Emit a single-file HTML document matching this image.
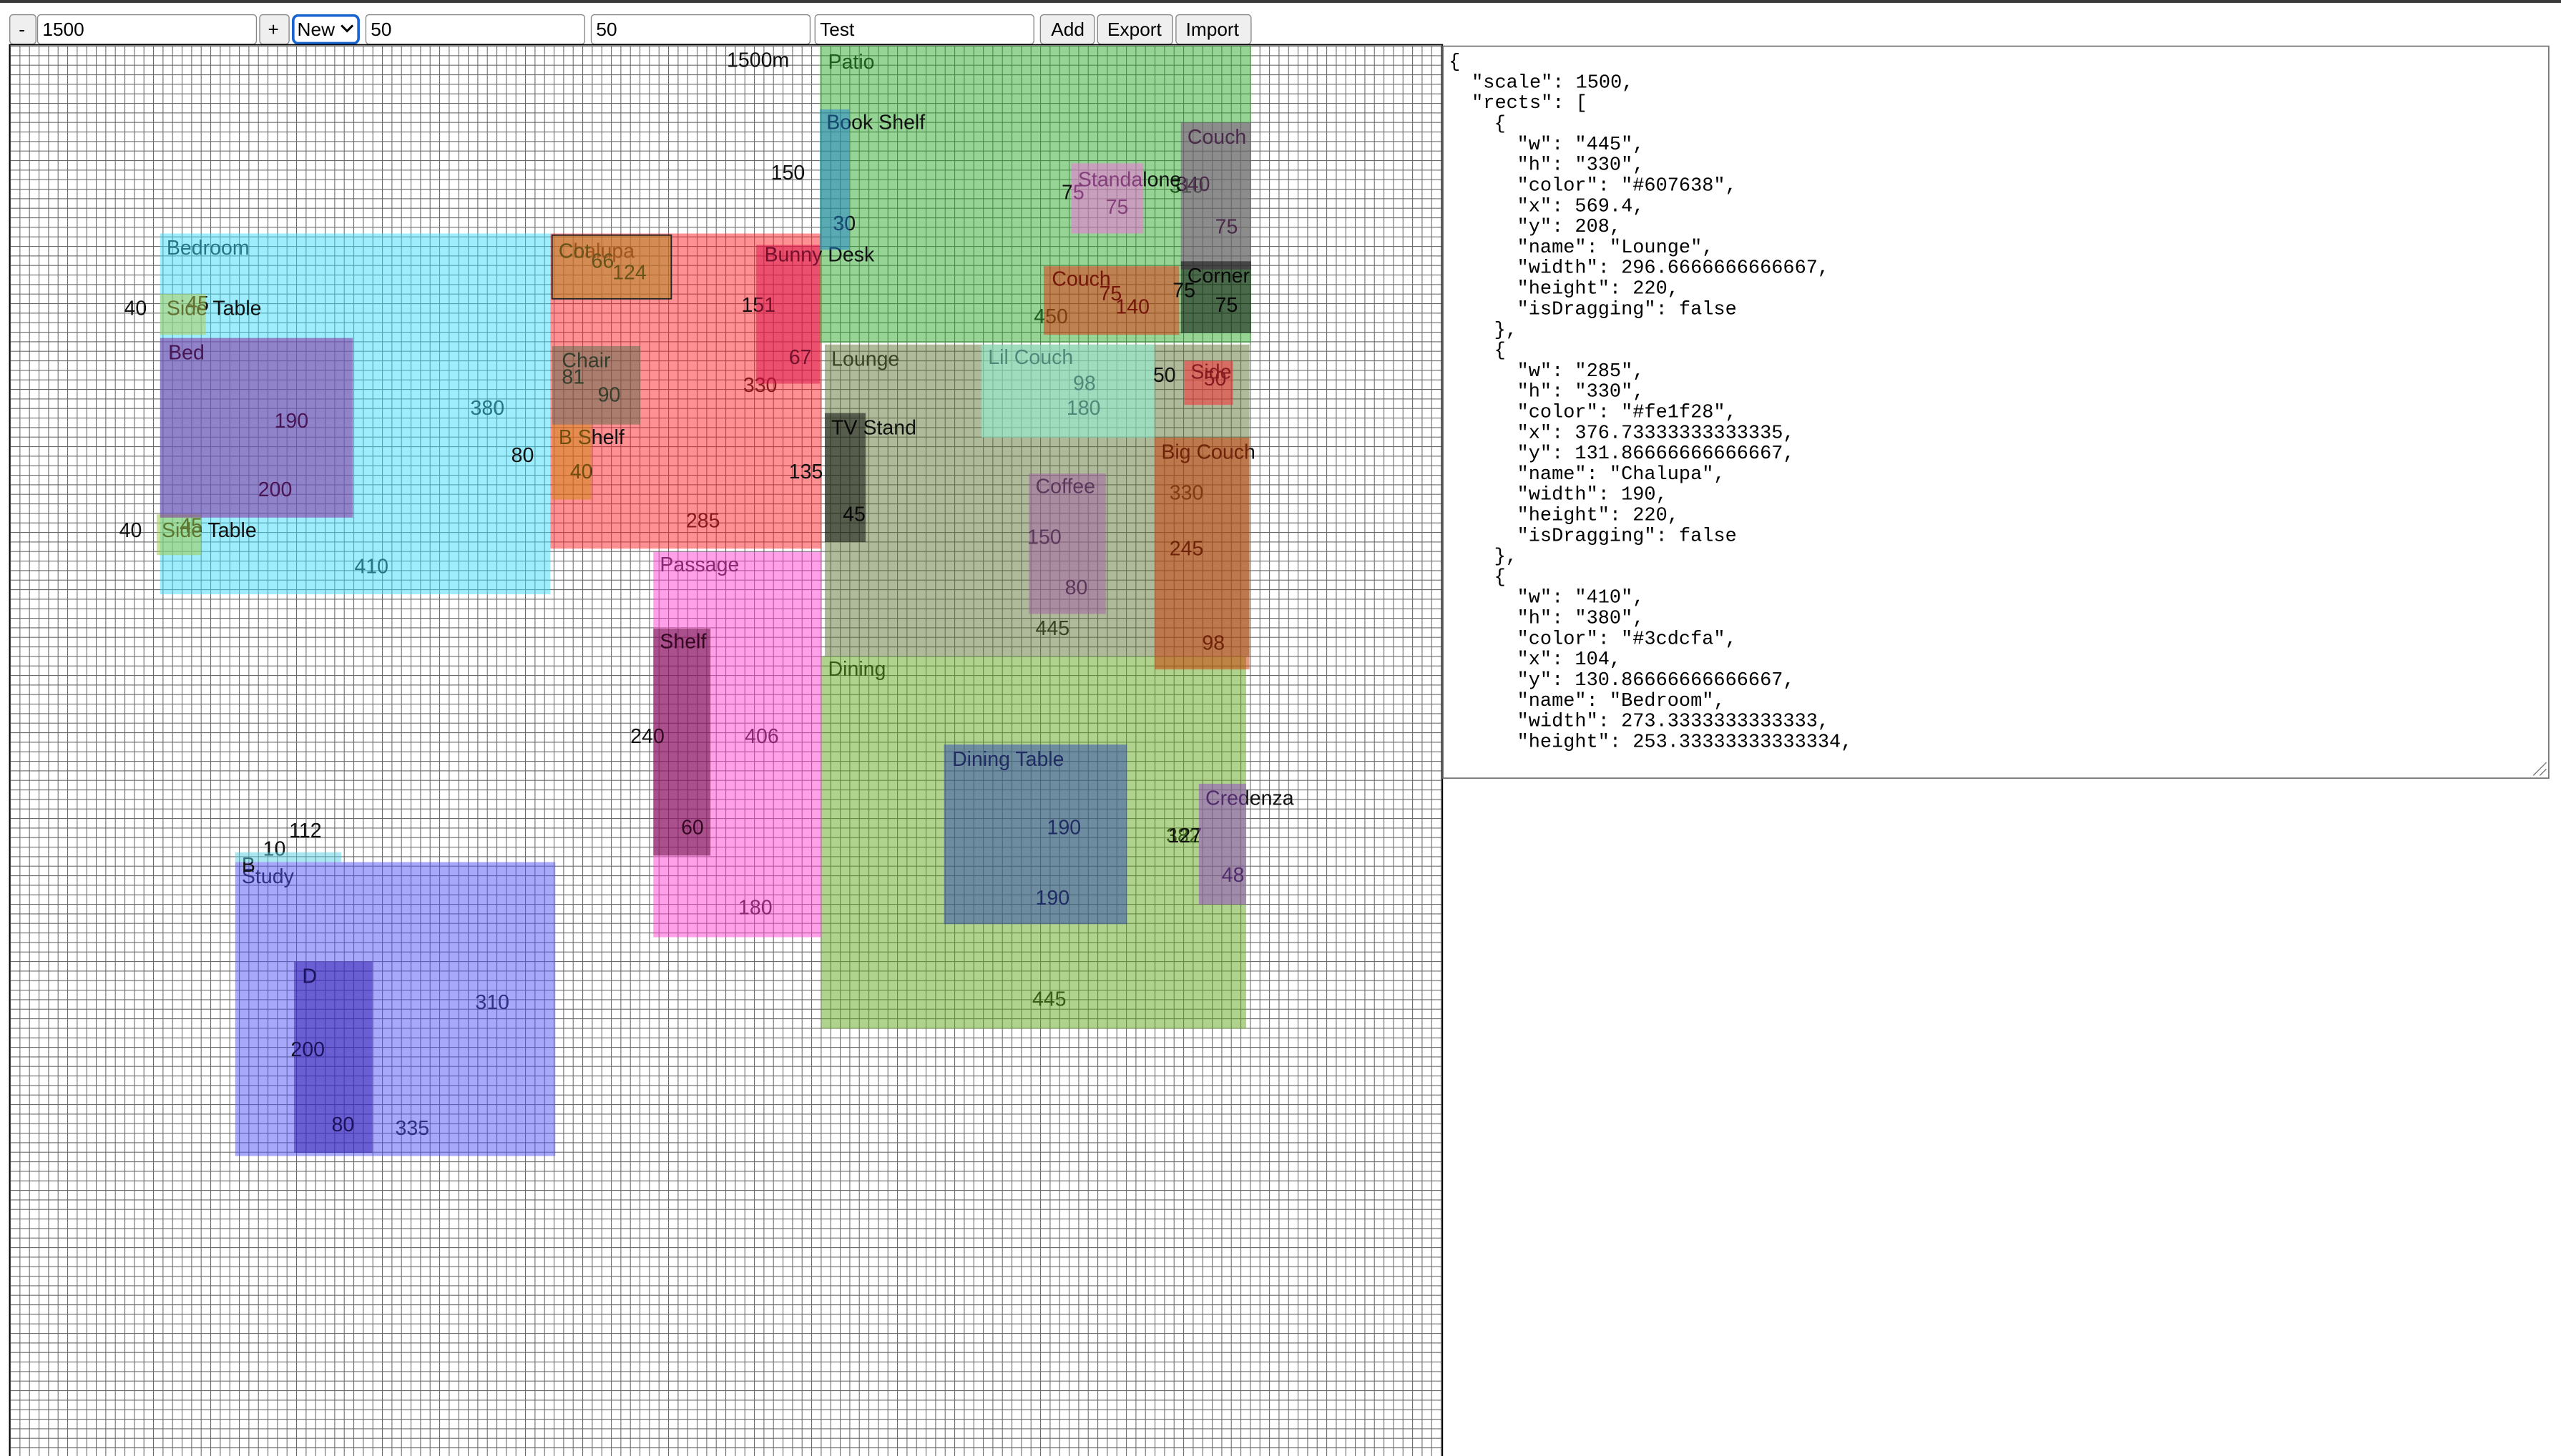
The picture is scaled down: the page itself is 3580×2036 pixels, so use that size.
<!DOCTYPE html>
<html><head><meta charset="utf-8"><style>
html,body{margin:0;padding:0;background:#fff;width:3580px;height:2036px;overflow:hidden}
svg{display:block}
.l{font-family:"Liberation Sans",sans-serif;font-size:12.5px;fill:#111}
.tb{font-family:"Liberation Sans",sans-serif;font-size:11.5px;fill:#000}
.j{font-family:"Liberation Mono",monospace;font-size:11.8px;fill:#000;white-space:pre}
</style></head><body>
<svg width="3580" height="2036" viewBox="0 0 1568 891.75" preserveAspectRatio="none" xmlns="http://www.w3.org/2000/svg">
<defs>
<pattern id="g" patternUnits="userSpaceOnUse" x="6.13" y="28.03" width="5.84" height="5.84">
<path d="M0 0H5.84M0 0V5.84" stroke="#6a6a6a" stroke-width="0.95" fill="none"/>
</pattern>
<clipPath id="cv"><rect x="6" y="28" width="877" height="864"/></clipPath>
</defs>
<rect x="0" y="0" width="1568" height="1.8" fill="#3a3a3a"/>
<g>
<rect x="6" y="9" width="16" height="18" rx="2" fill="#efefef" stroke="#888" stroke-width="0.6"/>
<text class="tb" x="11.5" y="22">-</text>
<rect x="23" y="9" width="134" height="18" rx="2" fill="#fff" stroke="#888" stroke-width="0.6"/>
<text class="tb" x="26" y="22">1500</text>
<rect x="159" y="9" width="18" height="18" rx="2" fill="#efefef" stroke="#888" stroke-width="0.6"/>
<text class="tb" x="164" y="22">+</text>
<rect x="179.5" y="9.5" width="40" height="17" rx="3" fill="#fff" stroke="#1a66d0" stroke-width="1.6"/>
<text class="tb" x="182" y="22">New</text>
<path d="M209 15.5l3.5 3.5 3.5-3.5" stroke="#000" stroke-width="1.3" fill="none"/>
<rect x="224" y="9" width="134" height="18" rx="2" fill="#fff" stroke="#888" stroke-width="0.6"/>
<text class="tb" x="227" y="22">50</text>
<rect x="362" y="9" width="134" height="18" rx="2" fill="#fff" stroke="#888" stroke-width="0.6"/>
<text class="tb" x="365" y="22">50</text>
<rect x="499" y="9" width="134" height="18" rx="2" fill="#fff" stroke="#888" stroke-width="0.6"/>
<text class="tb" x="502" y="22">Test</text>
<rect x="637" y="9" width="33" height="18" rx="2" fill="#efefef" stroke="#888" stroke-width="0.6"/>
<text class="tb" x="643.5" y="22">Add</text>
<rect x="672" y="9" width="46" height="18" rx="2" fill="#efefef" stroke="#888" stroke-width="0.6"/>
<text class="tb" x="678" y="22">Export</text>
<rect x="720" y="9" width="46" height="18" rx="2" fill="#efefef" stroke="#888" stroke-width="0.6"/>
<text class="tb" x="726" y="22">Import</text>
</g>
<g clip-path="url(#cv)">
<rect x="6" y="28" width="877" height="864" fill="#fff"/>
<rect x="6" y="28" width="877" height="864" fill="url(#g)"/>

<text class="l" x="445" y="41">1500m</text>
<text class="l" x="509" y="224">Lounge</text>
<text class="l" x="634" y="389">445</text>
<text class="l" x="716" y="306">330</text>
<rect x="505" y="211" width="260" height="191" fill="#607638" fill-opacity="0.5"/>
<text class="l" x="342" y="158">Chalupa</text>
<text class="l" x="455" y="240">330</text>
<text class="l" x="420" y="323">285</text>
<rect x="337" y="143" width="166" height="193" fill="#fe1f28" fill-opacity="0.5"/>
<text class="l" x="102" y="156">Bedroom</text>
<text class="l" x="288" y="254">380</text>
<text class="l" x="217" y="351">410</text>
<rect x="98" y="143" width="239" height="221" fill="#3cdcfa" fill-opacity="0.5"/>
<text class="l" x="507" y="42">Patio</text>
<text class="l" x="716" y="118">310</text>
<text class="l" x="633" y="198">450</text>
<rect x="502" y="28" width="264" height="182" fill="#2da92d" fill-opacity="0.5"/>
<text class="l" x="404" y="350">Passage</text>
<text class="l" x="456" y="455">406</text>
<text class="l" x="452" y="560">180</text>
<rect x="400" y="338" width="103" height="236" fill="#ff41d1" fill-opacity="0.5"/>
<text class="l" x="507" y="414">Dining</text>
<text class="l" x="632" y="616">445</text>
<text class="l" x="714" y="516">382</text>
<rect x="503" y="402" width="260" height="228" fill="#5fa519" fill-opacity="0.5"/>
<text class="l" x="148" y="541">Study</text>
<text class="l" x="291" y="618">310</text>
<text class="l" x="242" y="695">335</text>
<rect x="144" y="528" width="196" height="180" fill="#5151f5" fill-opacity="0.5"/>
<text class="l" x="148" y="534">B</text>
<text class="l" x="161" y="524">10</text>
<text class="l" x="177" y="513">112</text>
<rect x="144" y="522" width="65" height="6" fill="#55cde1" fill-opacity="0.5"/>

<text class="l" x="102" y="193">Side Table</text>
<text class="l" x="114" y="190">45</text>
<text class="l" x="76" y="193">40</text>
<rect x="98" y="180" width="28" height="25" fill="#b4d050" fill-opacity="0.5"/>
<text class="l" x="99" y="329">Side Table</text>
<text class="l" x="110" y="326">45</text>
<text class="l" x="73" y="329">40</text>
<rect x="96" y="315" width="27" height="25" fill="#9ccc50" fill-opacity="0.55"/>
<text class="l" x="103" y="220">Bed</text>
<text class="l" x="168" y="262">190</text>
<text class="l" x="158" y="304">200</text>
<rect x="98" y="207" width="118" height="110" fill="#841a96" fill-opacity="0.5"/>
<text class="l" x="342" y="158">Cot</text>
<text class="l" x="362" y="164">66</text>
<text class="l" x="375" y="171">124</text>
<rect x="338" y="144" width="73" height="39" fill="#b08a21" fill-opacity="0.55" stroke="#222" stroke-width="0.8"/>
<text class="l" x="344" y="225">Chair</text>
<text class="l" x="344" y="235">81</text>
<text class="l" x="366" y="246">90</text>
<rect x="338" y="212" width="54" height="48" fill="#556b49" fill-opacity="0.5"/>
<text class="l" x="342" y="272">B Shelf</text>
<text class="l" x="349" y="293">40</text>
<text class="l" x="313" y="283">80</text>
<rect x="338" y="260" width="24" height="46" fill="#cd890d" fill-opacity="0.5"/>
<text class="l" x="468" y="160">Bunny Desk</text>
<text class="l" x="454" y="191">151</text>
<text class="l" x="483" y="223">67</text>
<rect x="463" y="150" width="39" height="85" fill="#d71149" fill-opacity="0.5"/>
<text class="l" x="506" y="79">Book Shelf</text>
<text class="l" x="472" y="110">150</text>
<text class="l" x="510" y="141">30</text>
<rect x="502" y="67" width="18" height="86" fill="#1e80d2" fill-opacity="0.5"/>
<text class="l" x="660" y="114">Standalone</text>
<text class="l" x="650" y="122">75</text>
<text class="l" x="677" y="131">75</text>
<rect x="656" y="100" width="44" height="43" fill="#fa6ce6" fill-opacity="0.5"/>
<text class="l" x="727" y="88">Couch</text>
<text class="l" x="720" y="117">340</text>
<text class="l" x="744" y="143">75</text>
<rect x="723" y="75" width="43" height="90" fill="#824482" fill-opacity="0.5"/>
<text class="l" x="644" y="175">Couch</text>
<text class="l" x="673" y="184">75</text>
<text class="l" x="683" y="192">140</text>
<rect x="639" y="163" width="83" height="42" fill="#f01c00" fill-opacity="0.45"/>
<text class="l" x="727" y="173">Corner</text>
<text class="l" x="718" y="182">75</text>
<text class="l" x="744" y="191">75</text>
<rect x="723" y="160" width="43" height="44" fill="#000" fill-opacity="0.5"/>
<text class="l" x="605" y="223">Lil Couch</text>
<text class="l" x="657" y="239">98</text>
<text class="l" x="653" y="254">180</text>
<rect x="601" y="211" width="106" height="57" fill="#90fee1" fill-opacity="0.5"/>
<text class="l" x="729" y="232">Side</text>
<text class="l" x="737" y="236">50</text>
<text class="l" x="706" y="234">50</text>
<rect x="725" y="221" width="30" height="27" fill="#ff222d" fill-opacity="0.5"/>
<text class="l" x="509" y="266">TV Stand</text>
<text class="l" x="483" y="293">135</text>
<text class="l" x="516" y="319">45</text>
<rect x="505" y="253" width="25" height="79" fill="#000" fill-opacity="0.5"/>
<text class="l" x="634" y="302">Coffee</text>
<text class="l" x="629" y="333">150</text>
<text class="l" x="652" y="364">80</text>
<rect x="630" y="290" width="47" height="86" fill="#a45ea5" fill-opacity="0.5"/>
<text class="l" x="711" y="281">Big Couch</text>
<text class="l" x="716" y="340">245</text>
<text class="l" x="736" y="398">98</text>
<rect x="707" y="268" width="58" height="142" fill="#cc3600" fill-opacity="0.5"/>
<text class="l" x="404" y="397">Shelf</text>
<text class="l" x="386" y="455">240</text>
<text class="l" x="417" y="511">60</text>
<rect x="400" y="385" width="35" height="139" fill="#550030" fill-opacity="0.5"/>
<text class="l" x="583" y="469">Dining Table</text>
<text class="l" x="641" y="511">190</text>
<text class="l" x="634" y="554">190</text>
<rect x="578" y="456" width="112" height="110" fill="#2d46b4" fill-opacity="0.5"/>
<text class="l" x="738" y="493">Credenza</text>
<text class="l" x="715" y="516">127</text>
<text class="l" x="748" y="540">48</text>
<rect x="734" y="480" width="29" height="74" fill="#9146c8" fill-opacity="0.5"/>
<text class="l" x="185" y="602">D</text>
<text class="l" x="178" y="647">200</text>
<text class="l" x="203" y="693">80</text>
<rect x="180" y="589" width="48" height="117" fill="#2a16aa" fill-opacity="0.5"/>
</g>
<rect x="5.9" y="27.4" width="877.2" height="870" fill="none" stroke="#000" stroke-width="0.8"/>
<rect x="883.5" y="28.3" width="677" height="448.3" fill="#fff" stroke="#777" stroke-width="0.8"/>
<path d="M1551 475l8-8M1555 475l4-4" stroke="#777" stroke-width="0.6"/>
<g class="j">
<text class="j" x="887" y="41">{</text>
<text class="j" x="901" y="53.6">"scale": 1500,</text>
<text class="j" x="901" y="66.2">"rects": [</text>
<text class="j" x="914.8" y="78.9">{</text>
<text class="j" x="928.8" y="91.5">"w": "445",</text>
<text class="j" x="928.8" y="104.1">"h": "330",</text>
<text class="j" x="928.8" y="116.7">"color": "#607638",</text>
<text class="j" x="928.8" y="129.4">"x": 569.4,</text>
<text class="j" x="928.8" y="142">"y": 208,</text>
<text class="j" x="928.8" y="154.6">"name": "Lounge",</text>
<text class="j" x="928.8" y="167.2">"width": 296.6666666666667,</text>
<text class="j" x="928.8" y="179.8">"height": 220,</text>
<text class="j" x="928.8" y="192.4">"isDragging": false</text>
<text class="j" x="914.8" y="205.1">},</text>
<text class="j" x="914.8" y="217.7">{</text>
<text class="j" x="928.8" y="230.3">"w": "285",</text>
<text class="j" x="928.8" y="242.9">"h": "330",</text>
<text class="j" x="928.8" y="255.5">"color": "#fe1f28",</text>
<text class="j" x="928.8" y="268.2">"x": 376.73333333333335,</text>
<text class="j" x="928.8" y="280.8">"y": 131.86666666666667,</text>
<text class="j" x="928.8" y="293.4">"name": "Chalupa",</text>
<text class="j" x="928.8" y="306">"width": 190,</text>
<text class="j" x="928.8" y="318.6">"height": 220,</text>
<text class="j" x="928.8" y="331.3">"isDragging": false</text>
<text class="j" x="914.8" y="343.9">},</text>
<text class="j" x="914.8" y="356.5">{</text>
<text class="j" x="928.8" y="369.1">"w": "410",</text>
<text class="j" x="928.8" y="381.7">"h": "380",</text>
<text class="j" x="928.8" y="394.4">"color": "#3cdcfa",</text>
<text class="j" x="928.8" y="407">"x": 104,</text>
<text class="j" x="928.8" y="419.6">"y": 130.86666666666667,</text>
<text class="j" x="928.8" y="432.2">"name": "Bedroom",</text>
<text class="j" x="928.8" y="444.8">"width": 273.3333333333333,</text>
<text class="j" x="928.8" y="457.5">"height": 253.33333333333334,</text>
</g>
</svg>
</body></html>
